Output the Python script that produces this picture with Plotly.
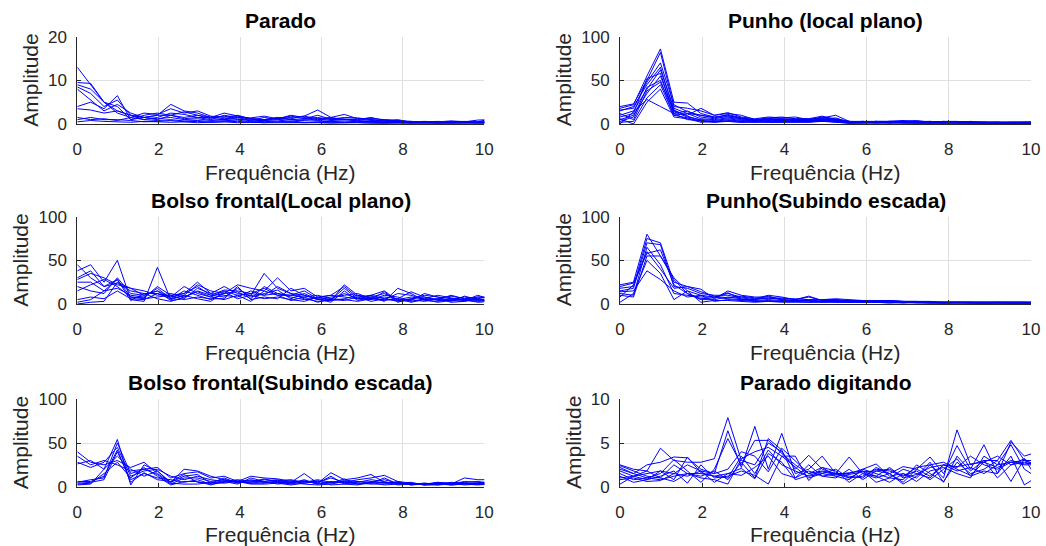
import plotly.graph_objects as go

# Frequency axis (Hz): 32 bins, step ~0.328 Hz
freq_step = 0.328
n_bins = 32
freq = [round(i * freq_step, 3) for i in range(n_bins)]

titles = ["Parado", "Punho (local plano)", "Bolso frontal(Local plano)",
          "Punho(Subindo escada)", "Bolso frontal(Subindo escada)", "Parado digitando"]
y_max = [20, 100, 100, 100, 100, 10]
y_ticks = [[0, 10, 20], [0, 50, 100], [0, 50, 100], [0, 50, 100], [0, 50, 100], [0, 5, 10]]
x_ticks = [0, 2, 4, 6, 8, 10]

parado = [
    [13, 9, 5, 3, 2, 1.5, 2, 4.5, 3, 2.5, 1.5, 2.5, 1.8, 1.2, 1, 1.2, 1.5, 1.8, 3.2, 1.5, 2.2, 1.2, 1.3, 1, 0.8, 0.5, 0.4, 0.5, 0.6, 0.5, 0.9, 1.0],
    [9.5, 9.3, 5, 4, 1, 2, 2.5, 2, 2.8, 2, 1.6, 1.2, 1.5, 1.4, 1.8, 1.2, 2, 1.5, 1, 1.3, 1.2, 1, 1.5, 0.8, 0.6, 0.5, 0.5, 0.4, 0.5, 0.4, 0.5, 0.6],
    [9, 8, 5, 2.5, 1.5, 2.5, 2.2, 3.5, 2.5, 3, 1.8, 1.5, 2, 1.2, 1, 1.2, 1.8, 1.2, 2, 1.1, 1.5, 1.4, 1, 0.7, 1, 0.4, 0.5, 0.6, 0.5, 0.6, 0.5, 1.2],
    [8.5, 7, 4, 5.5, 2, 1, 1.5, 2.5, 2.2, 1.5, 1, 2, 1.5, 0.8, 1.5, 1, 1.2, 1.8, 1.2, 1.5, 1, 1.2, 0.8, 1, 0.7, 0.5, 0.6, 0.5, 0.7, 0.5, 0.4, 0.5],
    [8, 5.5, 3, 4.5, 2.5, 1.5, 1, 2, 1.5, 2, 1.2, 1, 1.8, 1, 0.7, 1.5, 1, 1.2, 1.5, 1, 1.1, 0.8, 1, 0.6, 0.5, 0.6, 0.4, 0.5, 0.4, 0.5, 0.3, 0.6],
    [4, 5, 3.5, 6.5, 1, 1.5, 2, 2, 1.2, 1.5, 1.5, 1.8, 1, 1.2, 1, 1.5, 1, 0.8, 1.2, 0.8, 1, 0.7, 0.6, 0.6, 0.5, 0.3, 0.4, 0.3, 0.4, 0.3, 0.3, 0.5],
    [3.5, 3.2, 2.5, 3, 2, 1.5, 1.2, 1.5, 1, 1.2, 0.8, 1, 1.2, 0.7, 0.8, 0.9, 0.6, 1, 0.8, 0.6, 0.7, 0.5, 0.6, 0.4, 0.4, 0.3, 0.3, 0.4, 0.3, 0.3, 0.4, 0.3],
    [1.5, 1, 1.2, 0.8, 1.5, 1, 0.8, 1, 0.7, 0.8, 0.6, 0.7, 0.9, 0.5, 0.6, 0.5, 0.7, 0.4, 0.5, 0.6, 0.4, 0.5, 0.4, 0.3, 0.4, 0.3, 0.3, 0.2, 0.3, 0.3, 0.2, 0.3],
    [1, 1.5, 1, 1, 0.8, 0.5, 0.6, 0.8, 0.5, 0.6, 0.4, 0.5, 0.6, 0.4, 0.3, 0.5, 0.4, 0.3, 0.4, 0.3, 0.4, 0.3, 0.3, 0.2, 0.3, 0.2, 0.3, 0.2, 0.2, 0.3, 0.2, 0.2],
    [0.5, 0.8, 0.6, 0.5, 0.4, 0.6, 0.5, 0.4, 0.5, 0.3, 0.4, 0.5, 0.3, 0.4, 0.3, 0.3, 0.4, 0.3, 0.3, 0.2, 0.3, 0.3, 0.2, 0.2, 0.3, 0.2, 0.2, 0.2, 0.2, 0.2, 0.2, 0.2],
]

punho_plano = [
    [18, 22, 55, 86, 25, 24, 12, 8, 10, 6, 4, 6, 5, 6, 5, 8, 6, 3, 3, 3, 3, 3, 3, 3, 2, 2, 2, 2, 2, 2, 2, 2],
    [20, 23, 50, 82, 20, 18, 15, 10, 13, 8, 6, 8, 7, 8, 5, 7, 10, 3, 2, 3, 3, 4, 3, 2, 3, 3, 2, 2, 2, 2, 2, 2],
    [15, 20, 45, 65, 15, 10, 18, 10, 12, 10, 5, 7, 8, 6, 6, 9, 5, 2, 3, 2, 3, 3, 4, 2, 2, 2, 3, 2, 2, 2, 2, 2],
    [10, 15, 40, 62, 18, 12, 10, 8, 8, 6, 5, 5, 6, 5, 4, 6, 4, 3, 2, 3, 2, 3, 2, 2, 3, 2, 2, 2, 2, 1, 2, 2],
    [8, 12, 52, 58, 12, 15, 8, 6, 9, 7, 4, 6, 4, 5, 6, 5, 7, 2, 2, 3, 2, 2, 2, 3, 2, 2, 2, 2, 1, 2, 2, 2],
    [5, 10, 35, 55, 14, 8, 5, 4, 6, 4, 3, 4, 5, 4, 3, 5, 3, 2, 2, 2, 2, 3, 2, 2, 2, 2, 2, 1, 2, 1, 1, 1],
    [3, 8, 42, 50, 10, 12, 6, 5, 7, 5, 4, 5, 3, 4, 4, 4, 5, 3, 2, 2, 2, 2, 2, 2, 2, 2, 1, 2, 1, 1, 1, 1],
    [12, 5, 38, 48, 16, 9, 4, 3, 5, 3, 5, 3, 4, 3, 3, 6, 4, 2, 2, 2, 3, 2, 2, 2, 1, 2, 2, 1, 1, 1, 1, 1],
    [2, 3, 30, 45, 10, 7, 3, 2, 4, 3, 2, 3, 3, 2, 2, 3, 3, 1, 1, 2, 1, 2, 1, 1, 1, 1, 1, 1, 1, 1, 1, 1],
    [6, 0, 25, 40, 8, 6, 2, 3, 3, 2, 3, 2, 2, 3, 2, 4, 2, 1, 2, 1, 2, 1, 1, 1, 2, 1, 1, 1, 1, 1, 1, 1],
    [0, 14, 28, 20, 12, 5, 4, 2, 3, 2, 2, 2, 2, 2, 3, 3, 2, 1, 1, 1, 1, 1, 1, 1, 1, 1, 1, 1, 1, 1, 1, 1],
    [16, 18, 48, 70, 22, 14, 10, 7, 11, 7, 5, 6, 6, 5, 5, 7, 5, 2, 3, 2, 3, 3, 2, 2, 2, 2, 2, 2, 2, 2, 2, 2],
]

bolso_plano = [
    [45, 30, 20, 28, 8, 7, 20, 10, 12, 25, 12, 20, 12, 10, 35, 18, 12, 10, 5, 4, 22, 10, 8, 12, 5, 8, 6, 5, 4, 3, 8, 8],
    [38, 45, 25, 50, 5, 3, 42, 5, 10, 22, 15, 12, 22, 18, 15, 30, 15, 18, 8, 10, 20, 8, 10, 15, 4, 6, 10, 8, 6, 5, 4, 6],
    [30, 38, 20, 24, 15, 12, 12, 8, 20, 12, 8, 15, 10, 12, 18, 10, 10, 8, 10, 6, 12, 6, 7, 5, 12, 10, 5, 6, 9, 6, 5, 3],
    [28, 35, 30, 22, 18, 15, 10, 12, 8, 15, 10, 8, 18, 8, 12, 16, 6, 12, 5, 8, 10, 12, 6, 8, 6, 14, 8, 4, 5, 8, 6, 9],
    [25, 25, 15, 18, 10, 8, 18, 6, 15, 10, 5, 12, 14, 6, 20, 12, 8, 5, 7, 10, 8, 6, 10, 6, 3, 4, 12, 8, 3, 9, 5, 4],
    [20, 15, 12, 30, 12, 10, 15, 4, 6, 18, 12, 10, 8, 15, 10, 20, 12, 6, 3, 4, 6, 10, 5, 10, 8, 3, 6, 10, 7, 4, 10, 5],
    [15, 22, 28, 20, 8, 6, 8, 10, 5, 8, 6, 6, 20, 5, 8, 6, 18, 10, 6, 2, 15, 4, 8, 3, 18, 12, 4, 3, 6, 4, 3, 4],
    [5, 8, 6, 15, 6, 5, 12, 6, 10, 6, 3, 14, 6, 10, 6, 8, 5, 3, 8, 5, 4, 8, 3, 6, 4, 5, 3, 6, 2, 3, 6, 3],
    [2, 5, 15, 28, 4, 12, 6, 3, 8, 14, 8, 5, 10, 3, 15, 10, 4, 8, 2, 6, 5, 3, 6, 4, 6, 2, 5, 2, 4, 5, 2, 3],
    [0, 2, 3, 25, 18, 10, 15, 8, 12, 20, 10, 16, 15, 12, 10, 12, 10, 15, 6, 5, 18, 6, 5, 14, 2, 6, 8, 5, 10, 6, 8, 6],
]

punho_escada = [
    [22, 25, 80, 55, 30, 15, 10, 8, 12, 8, 6, 10, 8, 5, 8, 4, 5, 4, 4, 4, 4, 3, 3, 3, 2, 2, 2, 2, 2, 2, 2, 2],
    [18, 20, 75, 70, 25, 20, 17, 6, 15, 10, 8, 8, 6, 6, 5, 5, 6, 5, 4, 3, 4, 3, 3, 2, 2, 2, 2, 2, 2, 2, 2, 2],
    [15, 18, 70, 68, 20, 18, 12, 10, 10, 7, 5, 7, 5, 4, 5, 3, 4, 3, 3, 3, 3, 2, 2, 2, 2, 2, 2, 2, 2, 2, 2, 1],
    [12, 10, 65, 45, 12, 10, 8, 8, 6, 5, 4, 5, 4, 3, 4, 3, 3, 3, 2, 3, 2, 2, 2, 2, 2, 2, 2, 1, 2, 1, 1, 1],
    [10, 8, 55, 55, 28, 12, 5, 5, 8, 6, 3, 4, 3, 4, 3, 2, 3, 2, 3, 2, 2, 2, 2, 2, 1, 2, 1, 1, 1, 1, 1, 1],
    [2, 12, 50, 35, 5, 15, 2, 4, 4, 3, 2, 3, 2, 2, 2, 2, 2, 2, 2, 2, 1, 2, 1, 1, 1, 1, 1, 1, 1, 1, 1, 1],
    [14, 15, 38, 28, 15, 8, 10, 3, 5, 4, 3, 3, 3, 3, 2, 3, 2, 2, 2, 2, 2, 1, 2, 1, 1, 1, 1, 1, 1, 1, 1, 1],
    [8, 22, 60, 40, 18, 20, 14, 9, 7, 9, 7, 6, 7, 5, 9, 4, 4, 4, 3, 3, 3, 3, 2, 2, 2, 2, 2, 2, 2, 2, 2, 2],
    [20, 24, 58, 62, 22, 12, 6, 7, 13, 5, 5, 9, 5, 4, 4, 5, 5, 3, 3, 2, 3, 2, 2, 2, 2, 2, 2, 2, 2, 2, 2, 2],
]

bolso_escada = [
    [40, 28, 25, 30, 22, 28, 15, 5, 20, 18, 12, 8, 6, 4, 6, 8, 5, 15, 4, 16, 8, 10, 14, 5, 4, 3, 3, 4, 3, 10, 8, 8],
    [35, 25, 30, 25, 18, 20, 22, 10, 15, 17, 10, 12, 6, 12, 10, 9, 6, 6, 5, 10, 5, 8, 10, 13, 6, 4, 3, 5, 4, 5, 6, 4],
    [28, 22, 28, 45, 12, 18, 20, 12, 8, 12, 8, 6, 8, 6, 8, 7, 8, 5, 8, 5, 7, 6, 5, 8, 4, 5, 2, 3, 5, 4, 3, 5],
    [26, 30, 20, 54, 2, 25, 18, 5, 12, 14, 4, 10, 4, 8, 5, 6, 4, 8, 3, 6, 4, 5, 8, 6, 2, 3, 4, 2, 3, 6, 5, 3],
    [5, 8, 10, 50, 15, 20, 14, 3, 10, 10, 6, 8, 5, 5, 9, 5, 7, 4, 6, 4, 9, 3, 6, 4, 5, 2, 3, 4, 2, 3, 4, 6],
    [4, 5, 8, 40, 8, 15, 10, 8, 5, 8, 3, 5, 7, 4, 4, 6, 3, 6, 4, 12, 3, 6, 4, 10, 3, 4, 2, 5, 3, 4, 3, 2],
    [3, 4, 15, 28, 10, 22, 12, 2, 6, 6, 2, 6, 3, 10, 6, 3, 5, 3, 2, 3, 6, 4, 3, 3, 6, 2, 4, 3, 2, 3, 2, 3],
    [2, 3, 20, 35, 20, 12, 18, 4, 3, 3, 5, 4, 6, 3, 3, 4, 2, 4, 7, 2, 3, 2, 5, 2, 3, 4, 2, 2, 4, 2, 3, 2],
    [6, 6, 12, 42, 5, 16, 8, 6, 14, 5, 4, 7, 5, 7, 5, 5, 4, 7, 3, 5, 5, 3, 4, 5, 4, 3, 3, 3, 3, 4, 4, 4],
]

parado_digitando = [
    [2.5, 2, 1.8, 4.4, 3, 2.8, 2.8, 3.2, 7.9, 3, 2.5, 5, 4, 2, 3.6, 2, 1.5, 1, 1.2, 2, 1.8, 1.2, 2.2, 2.5, 1, 6.5, 2.5, 3, 3, 5.3, 3, 2.5],
    [2, 1.5, 2.5, 2.8, 3.4, 3.3, 2, 1.5, 6.4, 2.2, 6.9, 2, 6.1, 1.5, 2, 3.5, 1.5, 3.4, 1.5, 1, 1.5, 0.5, 2, 3.4, 1.5, 4.7, 2, 4.8, 1.5, 5.1, 3.5, 4],
    [1.5, 0.8, 1, 1.5, 3.1, 1.8, 0.5, 2, 5.5, 2.5, 5.3, 5.3, 3.8, 2.5, 1.5, 2.2, 1.2, 0.8, 2, 1.5, 1, 2, 1.5, 1, 2.5, 2.2, 3.5, 2.5, 2, 2.8, 3, 3],
    [1, 1.2, 0.8, 1.8, 1.5, 1.2, 1.8, 1.5, 2, 4, 3.5, 1.7, 4.4, 3, 1.5, 1.8, 1.5, 1.5, 2, 2.6, 1.2, 1.5, 1, 2.5, 2.8, 2, 1.3, 2.8, 3.5, 2.5, 3.2, 2],
    [0.3, 1.2, 1.8, 1, 2.5, 1.5, 1, 0.8, 0.3, 3.2, 4, 4.5, 3.5, 2.2, 1, 1.5, 2, 1, 1.8, 0.5, 1, 0.8, 2.5, 1.5, 0.6, 2.8, 1.5, 2, 3, 0.6, 3.2, 0.8],
    [2.2, 1.5, 1, 0.8, 1.2, 1.5, 1.2, 1.8, 0.8, 2.8, 1, 5.5, 4.2, 1, 1.8, 1.2, 1.5, 1.2, 1, 2.2, 1.5, 0.3, 1.2, 2.8, 0.5, 3.5, 1.8, 3, 1, 2.5, 2.8, 2.4],
    [1.2, 0.5, 0.8, 1.2, 1.8, 0.4, 2.5, 1, 1.2, 1.8, 1.3, 0.3, 3.5, 3.5, 0.7, 2.2, 1.8, 0.5, 1.5, 1.2, 0.5, 1.5, 0.6, 1.8, 2.2, 1.5, 1, 3.5, 2.5, 4.8, 2, 1],
    [0.8, 1, 0.6, 0.7, 1.5, 2.5, 1.8, 0.5, 1.5, 1.3, 2.2, 3.5, 1.5, 1, 2.5, 1.2, 1, 2, 0.8, 1.8, 2, 1.2, 1.8, 0.8, 2, 3.2, 1.2, 1.8, 1.5, 3.5, 0.2, 1.2],
    [1.8, 1.2, 1.5, 1.8, 0.8, 3.4, 1.6, 1.2, 1, 3.5, 1.5, 4.2, 2.5, 1.8, 1.2, 1.5, 1.2, 1.4, 1.7, 1.8, 1.5, 2.3, 2, 1.2, 2.5, 1.8, 2.2, 1.5, 2.5, 2.8, 2.5, 2.5],
    [2.4, 1.8, 1.2, 1, 0.6, 1.5, 1.5, 1.2, 1.5, 2.1, 0.9, 3.8, 2.8, 0.8, 1.3, 1.7, 1.4, 1.6, 1.8, 1.2, 2.2, 1, 1.4, 2.2, 2.5, 2.3, 2.6, 2.8, 2.2, 3, 2.6, 2.8],
]

panels = [parado, punho_plano, bolso_plano, punho_escada, bolso_escada, parado_digitando]

# ---- layout geometry ----
W, H = 1046, 546
col_px = [(77.3, 484.3), (620.0, 1031.0)]
row_px = [(36.7, 124.0), (216.7, 304.0), (399.3, 486.7)]

FONT = "Liberation Sans, Arial, sans-serif"
TXT = "#262626"
GRID = "#dfdfdf"

fig = go.Figure()
layout = dict(
    template="none",
    width=W, height=H, margin=dict(l=0, r=0, t=0, b=0, pad=0, autoexpand=False),
    paper_bgcolor="white", plot_bgcolor="white", showlegend=False,
    font=dict(family=FONT, color=TXT, size=17),
)
annotations = []

for k, (series, title) in enumerate(zip(panels, titles)):
    r, c = divmod(k, 2)
    x0, x1 = col_px[c]
    yt, yb = row_px[r]
    xd = [x0 / W, x1 / W]
    yd = [1 - yb / H, 1 - yt / H]
    sfx = "" if k == 0 else str(k + 1)
    for s in series:
        fig.add_trace(go.Scatter(x=freq, y=s, mode="lines",
                                 line=dict(color="#0000ff", width=1),
                                 xaxis="x" + sfx, yaxis="y" + sfx,
                                 hoverinfo="skip"))
    layout["xaxis" + sfx] = dict(
        domain=xd, range=[0, 10], anchor="y" + sfx, tickvals=x_ticks,
        automargin=False,
        showgrid=True, gridcolor=GRID, gridwidth=1, zeroline=False,
        showline=True, linecolor=TXT, linewidth=1, mirror=False,
        ticks="inside", ticklen=4, tickcolor=TXT,
        tickfont=dict(size=17, color=TXT), ticklabelstandoff=10,
    )
    layout["yaxis" + sfx] = dict(
        domain=yd, range=[0, y_max[k]], anchor="x" + sfx, tickvals=y_ticks[k],
        automargin=False,
        showgrid=True, gridcolor=GRID, gridwidth=1, zeroline=False,
        showline=True, linecolor=TXT, linewidth=1, mirror=False,
        ticks="inside", ticklen=4, tickcolor=TXT,
        tickfont=dict(size=17, color=TXT), ticklabelstandoff=6,
    )
    xc = (xd[0] + xd[1]) / 2
    label_offset = -57 if y_max[k] >= 100 else -47
    annotations.append(dict(
        text="<b>" + title + "</b>", x=xc, y=yd[1], xref="paper", yref="paper",
        xanchor="center", yanchor="bottom", yshift=3, showarrow=False,
        font=dict(size=21, color="black", family=FONT)))
    annotations.append(dict(
        text="Frequência (Hz)", x=xc, y=yd[0], xref="paper", yref="paper",
        xanchor="center", yanchor="middle", yshift=-48, showarrow=False,
        font=dict(size=21, color=TXT, family=FONT)))
    annotations.append(dict(
        text="Amplitude", x=xd[0], y=(yd[0] + yd[1]) / 2, xref="paper", yref="paper",
        xanchor="center", yanchor="middle", xshift=label_offset, textangle=-90,
        showarrow=False, font=dict(size=21, color=TXT, family=FONT)))

layout["annotations"] = annotations
fig.update_layout(**layout)
fig.write_html("out.html")
